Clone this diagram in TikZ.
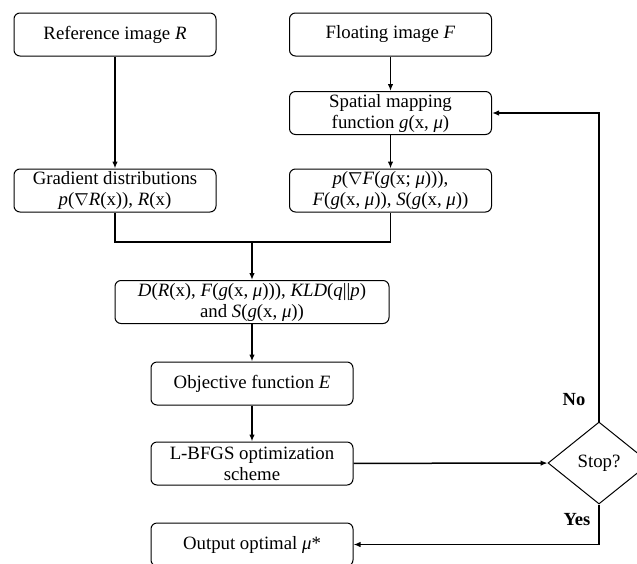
\documentclass[tikz,border=0pt]{standalone}
\usepackage{fontspec}
\setmainfont{Liberation Serif}
\usetikzlibrary{shapes.geometric,arrows.meta}

\begin{document}
\begin{tikzpicture}[x=1pt,y=-1pt,
   box/.style={draw, line width=1pt, rounded corners=6pt, minimum width=202pt, minimum height=43pt, inner sep=0pt, align=center, font=\fontsize{18.8}{21}\selectfont},
   conn/.style={line width=1.5pt},
   arr/.style={conn, -{Latex[length=7pt,width=5.5pt]}},
   tag/.style={font=\fontsize{18.5}{21}\selectfont\bfseries}]
\useasboundingbox (0,0) rectangle (637,563);
\clip (0,0) rectangle (637,563);
\node[box] (rref) at (115,34.5) {Reference image \textit{R}};
\node[box] (fflt) at (390.5,34.5) {Floating image \textit{F}};
\node[box] (smap) at (390.5,113) {Spatial mapping\\function \textit{g}(x, \textit{μ})};
\node[box] (grad) at (115,190.5) {Gradient distributions\\\textit{p}($\nabla$\textit{R}(x)), \textit{R}(x)};
\node[box] (pdist) at (390.5,190.5) {\textit{p}($\nabla$\textit{F}(\textit{g}(x; \textit{μ}))),\\\textit{F}(\textit{g}(x, \textit{μ})), \textit{S}(\textit{g}(x, \textit{μ}))};
\node[box, minimum width=274pt] (cost) at (252,302) {\textit{D}(\textit{R}(x), \textit{F}(\textit{g}(x, \textit{μ}))), \textit{KLD}(\textit{q}||\textit{p})\\and \textit{S}(\textit{g}(x, \textit{μ}))};
\node[box] (obj) at (252,383.5) {Objective function \textit{E}};
\node[box] (lbfgs) at (252,463.5) {L-BFGS optimization\\scheme};
\node[box] (outp) at (252,544.5) {Output optimal \textit{μ}*};
\node[draw, line width=1pt, shape=diamond, aspect=1.24, minimum width=102pt, minimum height=82pt, inner sep=0pt, font=\fontsize{18.8}{21}\selectfont] (stop) at (599,463) {Stop?};
\node[tag] (no) at (574,400) {No};
\node[tag] (yes) at (577,520) {Yes};
\coordinate (jn) at (252,242);

\draw[arr] (rref) -- (grad);
\draw[arr] (fflt) -- (smap);
\draw[arr] (smap) -- (pdist);
\draw[conn] (grad.south) |- (jn) -| (pdist.south);
\draw[arr] (jn) -- (cost);
\draw[arr] (cost) -- (obj);
\draw[arr] (obj) -- (lbfgs);
\draw[arr] (lbfgs) -- (stop);
\draw[arr] (stop.north) |- (smap.east);
\draw[arr] (stop.south) |- (outp.east);
\end{tikzpicture}
\end{document}
